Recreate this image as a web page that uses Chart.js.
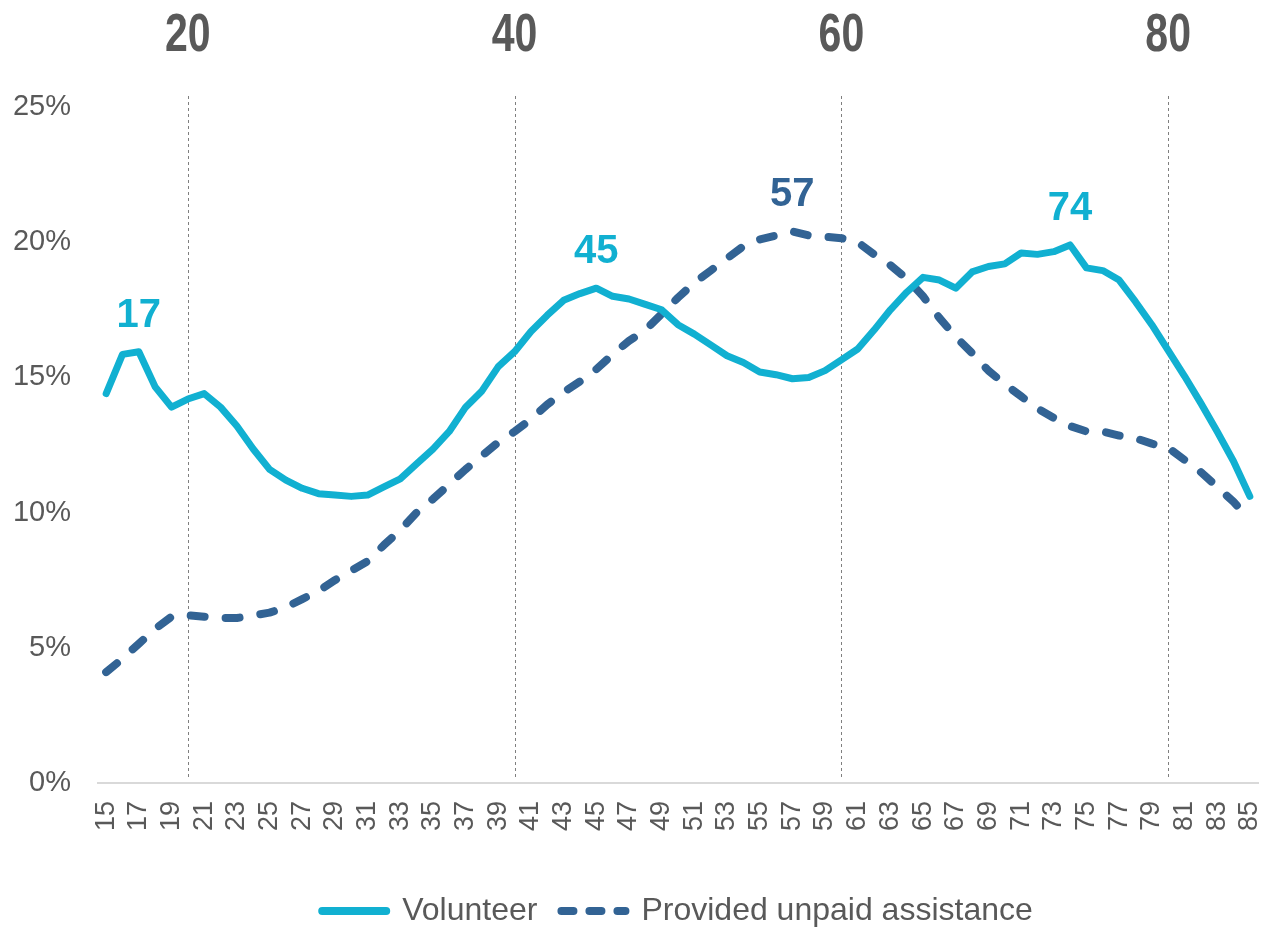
<!DOCTYPE html>
<html>
<head>
<meta charset="utf-8">
<script src="https://cdn.jsdelivr.net/npm/chart.js@4.4.0/dist/chart.umd.min.js"></script>
<style>
  html, body { margin: 0; padding: 0; background: #fff; }
  #wrap { width: 1281px; height: 930px; position: relative; }
</style>
</head>
<body>
<div id="wrap"><canvas id="myChart"></canvas></div>
<script>
// ages 15..85
const edades = [15,16,17,18,19,20,21,22,23,24,25,26,27,28,29,30,31,32,33,34,35,36,37,38,39,40,
  41,42,43,44,45,46,47,48,49,50,51,52,53,54,55,56,57,58,59,60,61,62,63,64,65,66,67,68,69,70,
  71,72,73,74,75,76,77,78,79,80,81,82,83,84,85];

const voluntario = [14.4,15.85,15.95,14.65,13.9,14.2,14.4,13.9,13.2,12.35,11.6,11.2,10.9,10.7,10.65,10.6,
  10.65,10.95,11.25,11.8,12.35,13.0,13.9,14.5,15.4,15.95,16.7,17.3,17.85,18.1,18.3,18.0,17.9,17.7,17.5,
  16.95,16.6,16.2,15.8,15.55,15.2,15.1,14.95,15.0,15.25,15.65,16.05,16.75,17.5,18.15,18.7,18.6,18.3,
  18.9,19.1,19.2,19.6,19.55,19.65,19.9,19.05,18.95,18.6,17.8,16.95,16.0,15.05,14.05,13.0,11.9,10.6];

const asistencia = [4.1,4.6,5.15,5.7,6.15,6.2,6.15,6.1,6.1,6.2,6.3,6.5,6.8,7.1,7.5,7.85,8.2,8.8,9.35,10.0,
  10.5,11.05,11.6,12.1,12.6,13.0,13.45,14.0,14.45,14.85,15.3,15.85,16.35,16.75,17.35,17.95,18.5,18.95,
  19.4,19.85,20.1,20.25,20.4,20.25,20.2,20.15,20.0,19.55,19.15,18.65,18.0,17.2,16.5,15.9,15.25,14.75,
  14.3,13.85,13.5,13.2,13.0,13.0,12.85,12.75,12.55,12.4,11.95,11.5,10.95,10.4,9.75];

const marcasArriba = [20, 40, 60, 80];
const ticksY = [0, 5, 10, 15, 20, 25];
const picos = [
  { serie: 0, edad: 17, texto: '17' },
  { serie: 0, edad: 45, texto: '45' },
  { serie: 1, edad: 57, texto: '57' },
  { serie: 0, edad: 74, texto: '74' }
];

const celeste = '#11b0d1';
const azul = '#326394';
const gris = '#595959';

// vertical dotted lines, big numbers on top, peak labels
const lineasEdad = {
  id: 'lineasEdad',
  afterLayout(chart) {
    // legend sits a bit right of centre in the original
    if (chart.legend) {
      chart.legend.left += 42;
      chart.legend.right += 42;
    }
  },
  beforeDatasetsDraw(chart) {
    const {ctx, chartArea, scales} = chart;
    ctx.save();
    ctx.strokeStyle = '#7f7f7f';
    ctx.lineWidth = 1;
    ctx.setLineDash([3, 3]);
    marcasArriba.forEach(e => {
      const x = Math.round(scales.x.getPixelForValue(edades.indexOf(e))) + 0.5;
      ctx.beginPath();
      ctx.moveTo(x, chartArea.top - 11);
      ctx.lineTo(x, chartArea.bottom - 3);
      ctx.stroke();
    });
    ctx.setLineDash([]);
    ctx.fillStyle = gris;
    ctx.font = 'bold 54px "Liberation Sans", Arial, sans-serif';
    ctx.textAlign = 'center';
    ctx.textBaseline = 'alphabetic';
    marcasArriba.forEach(e => {
      const x = scales.x.getPixelForValue(edades.indexOf(e));
      ctx.save();
      ctx.translate(x, 51);
      ctx.scale(0.76, 1);   // narrow look
      ctx.fillText(String(e), 0, 0);
      ctx.restore();
    });
    ctx.restore();
  },
  afterDatasetsDraw(chart) {
    const {ctx} = chart;
    ctx.save();
    ctx.font = 'bold 40px "Liberation Sans", Arial, sans-serif';
    ctx.textAlign = 'center';
    ctx.textBaseline = 'alphabetic';
    picos.forEach(p => {
      const pt = chart.getDatasetMeta(p.serie).data[edades.indexOf(p.edad)];
      ctx.fillStyle = p.serie === 0 ? celeste : azul;
      ctx.fillText(p.texto, pt.x, pt.y - 25);
    });
    ctx.restore();
  }
};

Chart.defaults.font.family = '"Liberation Sans", Arial, sans-serif';
Chart.defaults.color = gris;

const config = {
  type: 'line',
  data: {
    labels: edades,
    datasets: [
      {
        label: 'Volunteer',
        data: voluntario,
        borderColor: celeste,
        backgroundColor: celeste,
        borderWidth: 7,
        borderCapStyle: 'round',
        borderJoinStyle: 'round',
        pointRadius: 0,
        tension: 0
      },
      {
        label: 'Provided unpaid assistance',
        data: asistencia,
        borderColor: azul,
        backgroundColor: azul,
        borderWidth: 8,
        borderDash: [14, 21],
        borderCapStyle: 'round',
        borderJoinStyle: 'round',
        pointRadius: 0,
        tension: 0
      }
    ]
  },
  options: {
    responsive: false,
    animation: false,
    layout: { padding: { top: 107, left: 13, right: 23, bottom: -7 } },
    scales: {
      x: {
        offset: true,
        grid: { display: false, offset: false, drawTicks: false },
        border: { color: '#d9d9d9', width: 2 },
        ticks: {
          autoSkip: false,
          minRotation: 90,
          maxRotation: 90,
          padding: 18,
          font: { size: 27 },
          color: gris,
          callback: function (val, i) { return (edades[i] - 15) % 2 === 0 ? String(edades[i]) : ''; }
        },
        afterFit(scale) {
          scale.paddingLeft = 0;
          scale.paddingRight = 0;
          scale.height = 88;
        }
      },
      y: {
        min: 0,
        max: 25,
        afterBuildTicks(scale) { scale.ticks = ticksY.map(v => ({ value: v })); },
        grid: { display: false, drawTicks: false },
        border: { display: false },
        ticks: {
          padding: 27,
          font: { size: 29 },
          color: gris,
          callback: v => v + '%'
        },
        afterFit(scale) { scale.width = 85; }
      }
    },
    plugins: {
      legend: {
        position: 'bottom',
        labels: {
          usePointStyle: true,
          pointStyleWidth: 64,
          padding: 24,
          color: gris,
          font: { size: 32 },
          generateLabels(chart) {
            const items = Chart.defaults.plugins.legend.labels.generateLabels(chart);
            items.forEach((it, i) => {
              it.pointStyle = 'line';
              it.lineCap = 'round';
              it.lineWidth = 8;
              if (i === 1) it.lineDash = [12, 16];
            });
            return items;
          }
        }
      },
      tooltip: { enabled: false }
    }
  },
  plugins: [lineasEdad]
};

const canvas = document.getElementById('myChart');
canvas.width = 1281;
canvas.height = 930;
new Chart(canvas, config);
</script>
</body>
</html>
